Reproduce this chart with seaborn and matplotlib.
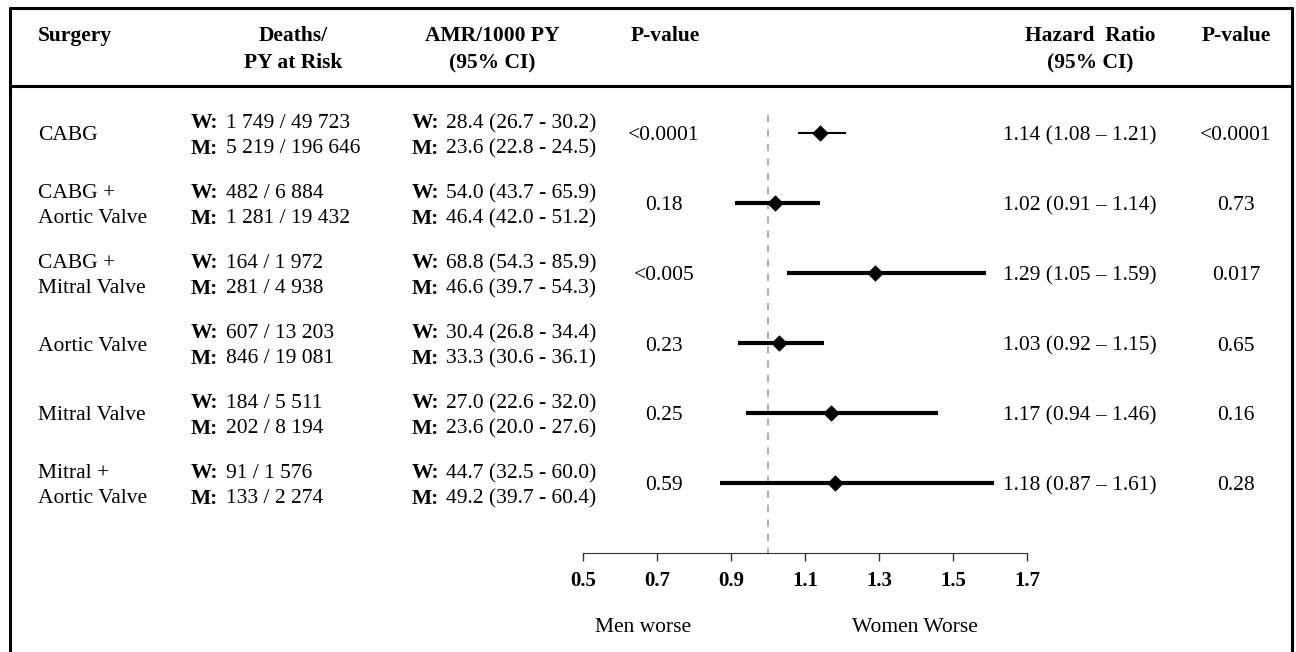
import matplotlib
matplotlib.use("Agg")
import matplotlib.pyplot as plt
from matplotlib.lines import Line2D
import seaborn as sns
import pandas as pd

surgery = ["CABG", "CABG +\nAortic Valve", "CABG +\nMitral Valve",
           "Aortic Valve", "Mitral Valve", "Mitral +\nAortic Valve"]
deaths_w = ["1 749 / 49 723", "482 / 6 884", "164 / 1 972",
            "607 / 13 203", "184 / 5 511", "91 / 1 576"]
deaths_m = ["5 219 / 196 646", "1 281 / 19 432", "281 / 4 938",
            "846 / 19 081", "202 / 8 194", "133 / 2 274"]
amr_w = ["28.4 (26.7 - 30.2)", "54.0 (43.7 - 65.9)", "68.8 (54.3 - 85.9)",
         "30.4 (26.8 - 34.4)", "27.0 (22.6 - 32.0)", "44.7 (32.5 - 60.0)"]
amr_m = ["23.6 (22.8 - 24.5)", "46.4 (42.0 - 51.2)", "46.6 (39.7 - 54.3)",
         "33.3 (30.6 - 36.1)", "23.6 (20.0 - 27.6)", "49.2 (39.7 - 60.4)"]
p_amr = ["<0.0001", "0.18", "<0.005", "0.23", "0.25", "0.59"]
hr = [1.14, 1.02, 1.29, 1.03, 1.17, 1.18]
hr_lo = [1.08, 0.91, 1.05, 0.92, 0.94, 0.87]
hr_hi = [1.21, 1.14, 1.59, 1.15, 1.46, 1.61]
p_hr = ["<0.0001", "0.73", "0.017", "0.65", "0.16", "0.28"]
xticks = [0.5, 0.7, 0.9, 1.1, 1.3, 1.5, 1.7]

# CI line widths (first row drawn thinner in the original)
ci_lw = [1.5, 3, 3, 3, 3, 3]

df = pd.DataFrame({"surgery": surgery, "hr": hr, "lo": hr_lo, "hi": hr_hi,
                   "row": range(len(surgery))})

sns.set_style("white")
plt.rcParams["font.family"] = ["Liberation Serif", "DejaVu Serif"]
plt.rcParams["text.color"] = "black"
plt.rcParams["xtick.color"] = "black"

W, H = 1296, 652
ROW0, STEP = 133, 70  # pixel position of first row, row spacing

fig = plt.figure(figsize=(W / 100, H / 100), dpi=100)


def fx(px):
    return px / W


def fy(py):
    return 1 - py / H


def rowpx(r):
    return ROW0 + STEP * r


ax = fig.add_axes([fx(583), 0, 444 / W, 1])
ax.set_xlim(0.5, 1.7)
ax.set_ylim((H - ROW0) / STEP, -ROW0 / STEP)

# reference line at HR = 1
ax.vlines(1.0, -0.26, 6, colors="#a6a6a6", linestyles=(0, (4, 4)), lw=1.3, zorder=1)

for _, r in df.iterrows():
    ax.hlines(r["row"], r["lo"], r["hi"], colors="black", lw=ci_lw[r["row"]], zorder=2)
sns.scatterplot(data=df, x="hr", y="row", marker="D", s=60, color="black",
                edgecolor="black", ax=ax, zorder=3, legend=False)

for s in ["top", "left", "right"]:
    ax.spines[s].set_visible(False)
ax.spines["bottom"].set_position(("data", 6))
ax.spines["bottom"].set_bounds(0.5, 1.7)
ax.spines["bottom"].set_color("#333333")
ax.set_xticks(xticks)
ax.set_xticklabels([f"{t:.1f}" for t in xticks], fontweight="bold", fontsize=15)
ax.tick_params(axis="x", length=6, width=1, color="#333333", labelcolor="black",
               pad=7, bottom=True)
ax.set_yticks([])
ax.set_xlabel("")
ax.set_ylabel("")
ax.patch.set_alpha(0)

FS = 15.5

# header
hdr = dict(fontsize=FS, fontweight="bold", va="center", color="black")
fig.text(fx(38), fy(36), "Surgery", ha="left", **hdr)
fig.text(fx(293), fy(36), "Deaths/", ha="center", **hdr)
fig.text(fx(293), fy(63), "PY at Risk", ha="center", **hdr)
fig.text(fx(492), fy(36), "AMR/1000 PY", ha="center", **hdr)
fig.text(fx(492), fy(63), "(95% CI)", ha="center", **hdr)
fig.text(fx(665), fy(36), "P-value", ha="center", **hdr)
fig.text(fx(1090), fy(36), "Hazard  Ratio", ha="center", **hdr)
fig.text(fx(1090), fy(63), "(95% CI)", ha="center", **hdr)
fig.text(fx(1236), fy(36), "P-value", ha="center", **hdr)

# frame lines
for xs, ys in [([10, 10], [8, H]), ([1292, 1292], [8, H]),
               ([10, 1292], [8, 8]), ([10, 1292], [86, 86])]:
    fig.add_artist(Line2D([fx(x) for x in xs], [fy(y) for y in ys],
                          transform=fig.transFigure, color="black", lw=2.2))

# table rows
txt = dict(fontsize=FS, va="center", color="black")
for i in range(len(surgery)):
    yc = rowpx(i) + 3
    yw, ym = yc - 12.5, yc + 12.5
    lines = surgery[i].split("\n")
    if len(lines) == 1:
        fig.text(fx(38), fy(yc), lines[0], ha="left", **txt)
    else:
        fig.text(fx(38), fy(yw), lines[0], ha="left", **txt)
        fig.text(fx(38), fy(ym), lines[1], ha="left", **txt)
    fig.text(fx(191), fy(yw), "W:", ha="left", fontweight="bold", **txt)
    fig.text(fx(226), fy(yw), deaths_w[i], ha="left", **txt)
    fig.text(fx(191), fy(ym), "M:", ha="left", fontweight="bold", **txt)
    fig.text(fx(226), fy(ym), deaths_m[i], ha="left", **txt)
    fig.text(fx(412), fy(yw), "W:", ha="left", fontweight="bold", **txt)
    fig.text(fx(446), fy(yw), amr_w[i], ha="left", **txt)
    fig.text(fx(412), fy(ym), "M:", ha="left", fontweight="bold", **txt)
    fig.text(fx(446), fy(ym), amr_m[i], ha="left", **txt)
    fig.text(fx(664), fy(yc), p_amr[i], ha="center", **txt)
    fig.text(fx(1003), fy(yc), f"{hr[i]:.2f} ({hr_lo[i]:.2f} \u2013 {hr_hi[i]:.2f})",
             ha="left", **txt)
    fig.text(fx(1236), fy(yc), p_hr[i], ha="center", **txt)

fig.text(fx(643), fy(627), "Men worse", ha="center", **txt)
fig.text(fx(915), fy(627), "Women Worse", ha="center", **txt)

fig.savefig("out.png", dpi=100)
